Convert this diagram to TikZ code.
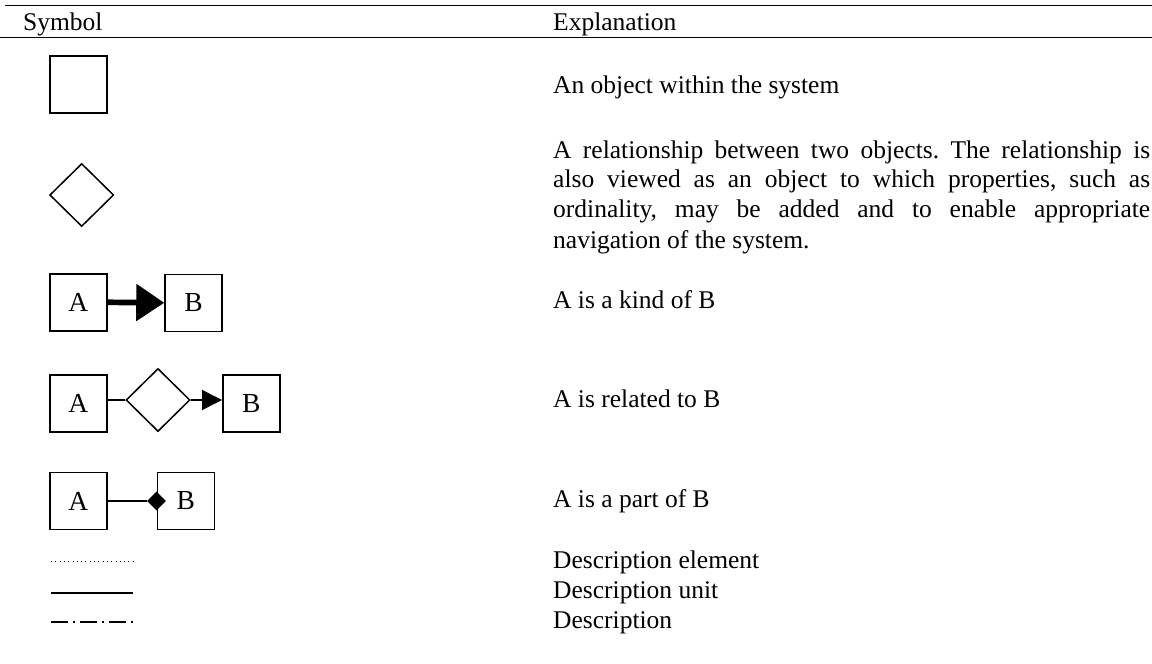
\documentclass[tikz,border=0pt]{standalone}
\usepackage{fontspec}
\setmainfont{Liberation Serif}
\usetikzlibrary{shapes.geometric,arrows.meta}
\frenchspacing
\begin{document}
\begin{tikzpicture}[x=1pt,y=-1pt,
  every node/.style={font=\fontsize{25.5}{30}\selectfont},
  obj/.style={draw,line width=1.5pt,rectangle,minimum width=57pt,minimum height=57pt,inner sep=0pt,
    font=\fontsize{27.5}{30}\selectfont},
  rel/.style={draw,line width=1.5pt,diamond,minimum width=64pt,minimum height=63pt,inner sep=0pt,aspect=1},
  txt/.style={anchor=base west,inner sep=0pt},
  rule/.style={line width=1.5pt},
  conn/.style={line width=1.4pt}
]
\useasboundingbox (0,0) rectangle (1152,664);

% table rules and header
\draw[rule] (5,5.7) -- (1152,5.7);
\draw[rule] (0,37.3) -- (1152,37.3);
\node[txt] (hsym) at (23,30) {Symbol};
\node[txt] (hexp) at (553,30) {Explanation};

% object
\node[obj] (obj) at (78.5,84.5) {};
\node[txt] (tobj) at (553,93) {An object within the system};

% relationship
\node[rel] (rel) at (81.7,195) {};
\node[txt] (trel1) at (553,158.3) {\makebox[597pt][s]{A relationship between two objects. The relationship is}};
\node[txt] (trel2) at (553,187.5) {\makebox[597pt][s]{also viewed as an object to which properties, such as}};
\node[txt] (trel3) at (553,217.5) {\makebox[597pt][s]{ordinality, may be added and to enable appropriate}};
\node[txt] (trel4) at (553,248) {navigation of the system.};

% kind of
\node[obj] (ka) at (78.3,302.3) {A};
\node[obj] (kb) at (193.5,302.8) {B};
\draw[line width=5.7pt,-{Triangle[length=28pt,width=36pt]}] (ka.east) -- (kb.west);
\node[txt] (tkind) at (553,308) {A is a kind of B};

% related to
\node[obj] (ra) at (78.3,403.5) {A};
\node[rel] (rd) at (158,400) {};
\node[obj] (rb) at (251.3,403.5) {B};
\draw[conn] (ra.east |- rd.west) -- (rd.west);
\draw[conn,-{Triangle[length=20pt,width=20pt]}] (rd.east) -- (rb.west |- rd.east);
\node[txt] (trelto) at (553,407) {A is related to B};

% part of
\node[obj] (pa) at (78.3,501) {A};
\node[obj] (pb) at (185.8,501) {B};
\node[diamond,fill=black,inner sep=0pt,minimum width=19pt,minimum height=19pt,aspect=1] (pd) at (pb.west) {};
\draw[conn] (pa.east) -- (pd.west);
\node[txt] (tpart) at (553,507) {A is a part of B};

% line styles
\coordinate (de1) at (51,561.7);  \coordinate (de2) at (133,561.7);
\coordinate (du1) at (51,593.3);  \coordinate (du2) at (133,593.3);
\coordinate (dd1) at (51,622.3);  \coordinate (dd2) at (133,622.3);
\draw[line width=1pt,dash pattern=on 1pt off 3.3pt] (de1) -- (de2);
\draw[line width=1.7pt] (du1) -- (du2);
\draw[line width=1.7pt,dash pattern=on 17pt off 5pt on 2pt off 5pt] (dd1) -- (dd2);
\node[txt] (tde) at (553,568) {Description element};
\node[txt] (tdu) at (553,598) {Description unit};
\node[txt] (tdd) at (553,628) {Description};
\end{tikzpicture}
\end{document}
